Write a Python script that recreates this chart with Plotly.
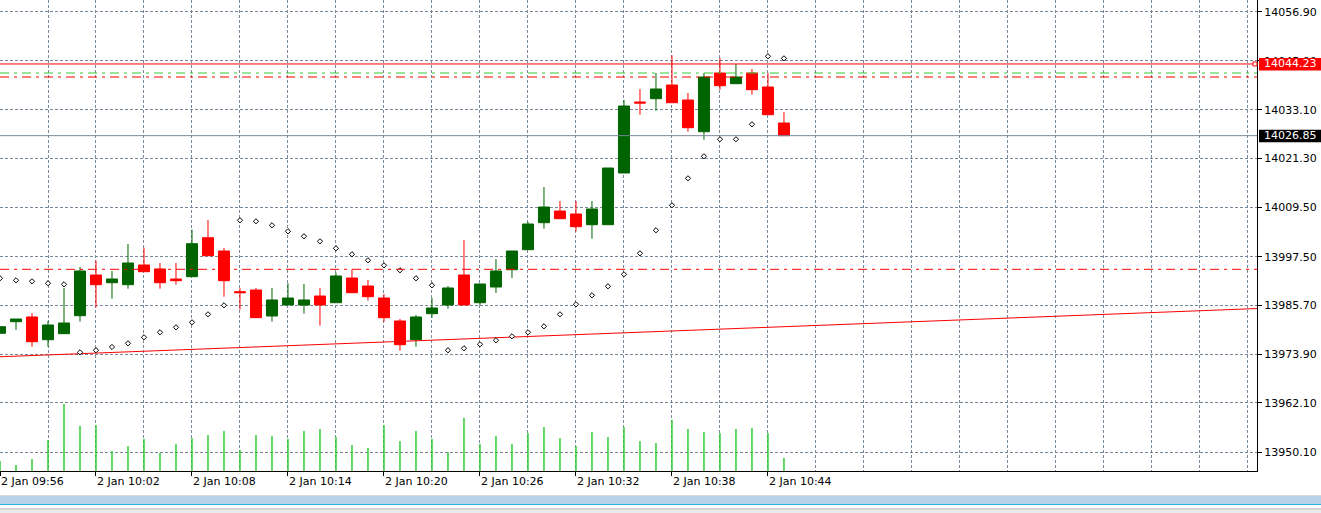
import pandas as pd
import plotly.graph_objects as go

# ---------------- data ----------------
times = pd.date_range("2024-01-02 09:56", periods=50, freq="min")

opens = [13978.94, 13981.75, 13982.89, 13977.38, 13978.84, 13983.20, 13993.07, 13991.20, 13990.72, 13995.49,
         13994.52, 13992.10, 13992.66, 14002.11, 13998.89, 13989.02, 13989.43, 13983.13, 13985.80, 13985.80,
         13987.98, 13986.35, 13992.34, 13990.40, 13987.49, 13981.92, 13977.38, 13983.69, 13985.80, 13993.07,
         13986.35, 13990.16, 13994.35, 13999.20, 14005.75, 14008.58, 14007.86, 14005.26, 14005.26, 14017.80,
         14035.01, 14035.81, 14039.13, 14035.49, 14027.81, 14042.04, 14039.45, 14042.04, 14038.65, 14029.92]
highs = [13980.54, 13982.40, 13983.86, 13981.92, 13989.92, 13995.01, 13996.54, 13994.04, 14000.58, 13999.69,
         13995.98, 13995.98, 14004.05, 14006.40, 13999.62, 13989.85, 13989.92, 13989.92, 13991.06, 13990.89,
         13989.92, 13993.63, 13994.45, 13991.86, 13988.46, 13982.40, 13983.37, 13987.49, 13990.40, 14001.55,
         13990.89, 13996.95, 13998.89, 14005.92, 14014.40, 14011.01, 14011.01, 14011.01, 14019.01, 14035.49,
         14038.16, 14042.04, 14046.33, 14037.19, 14042.04, 14045.68, 14044.22, 14043.01, 14042.04, 14032.58]
lows = [13978.94, 13979.74, 13975.69, 13975.69, 13978.84, 13981.75, 13985.24, 13987.32, 13989.75, 13993.87,
        13989.75, 13990.72, 13992.66, 13997.75, 13987.81, 13984.66, 13982.72, 13981.75, 13985.80, 13983.69,
        13980.78, 13986.35, 13988.78, 13986.84, 13981.75, 13974.72, 13975.69, 13982.72, 13984.90, 13985.80,
        13985.80, 13988.71, 13992.34, 13999.20, 14004.29, 14006.72, 14003.66, 14001.87, 14005.26, 14017.80,
        14031.93, 14032.90, 14034.84, 14027.81, 14025.87, 14037.99, 14039.45, 14036.78, 14031.93, 14026.85]
closes = [13980.54, 13982.40, 13976.90, 13980.95, 13981.43, 13994.04, 13990.72, 13992.10, 13995.98, 13993.87,
          13991.20, 13991.69, 14000.66, 13997.75, 13991.69, 13988.78, 13982.72, 13987.01, 13987.49, 13987.01,
          13985.80, 13992.83, 13988.78, 13987.81, 13982.72, 13976.17, 13982.89, 13985.07, 13989.92, 13985.80,
          13990.89, 13994.04, 13998.89, 14005.43, 14009.55, 14006.72, 14004.78, 14009.07, 14019.01, 14034.04,
          14034.77, 14038.16, 14034.84, 14028.78, 14041.07, 14038.96, 14041.07, 14037.99, 14031.93, 14026.85]
sar = [13992.27, 13991.78, 13991.54, 13991.06, 13990.81, 13974.33, 13974.82, 13975.62, 13976.51, 13977.97,
       13979.18, 13980.39, 13981.60, 13983.54, 13985.72, 14006.33, 14006.09, 14005.12, 14003.66, 14002.45,
       14001.24, 13999.54, 13998.09, 13996.63, 13995.42, 13994.21, 13992.27, 13990.57, 13974.82, 13975.30,
       13976.27, 13977.24, 13978.21, 13979.18, 13980.63, 13983.54, 13985.97, 13988.15, 13990.33, 13993.24,
       13998.33, 14003.91, 14009.97, 14016.51, 14021.85, 14025.97, 14025.97, 14029.60, 14046.09, 14045.60]
volumes = [10, 6, 12, 31, 67, 45, 46, 20, 25, 32, 18, 27, 33, 36, 40, 21, 36, 35, 32, 40,
           42, 34, 26, 23, 46, 30, 40, 32, 19, 53, 27, 35, 27, 38, 44, 33, 25, 39, 34, 44,
           30, 28, 51, 42, 39, 38, 42, 43, 38, 13]

price_ticks = [14056.90, 14045.00, 14033.10, 14021.30, 14009.50, 13997.50, 13985.70, 13973.90, 13962.10, 13950.10]
price_tick_labels = ["14056.90", "14045.00", "14033.10", "14021.30", "14009.50", "13997.50",
                     "13985.70", "13973.90", "13962.10", "13950.10"]

order_price = 14044.23
bid_price = 14026.85
tp_green = 14042.04
sl_red_upper = 14041.07
sl_red_lower = 13994.45
trend_times = ["2024-01-02 09:56", "2024-01-02 11:15"]
trend_prices = [13973.25, 13985.00]

x_start = "2024-01-02 09:56:00"
x_end = "2024-01-02 11:14:34"
y_range = [13945.55, 14059.74]
vol_range = [0, 471]

GRID = "#778899"
FONT = dict(family="DejaVu Sans", size=11, color="black")

# ---------------- traces ----------------
fig = go.Figure()

vx, vy = [], []
for t, v in zip(times, volumes):
    vx += [t, t, None]
    vy += [0, v, None]
fig.add_trace(go.Scatter(x=vx, y=vy, mode="lines", line=dict(color="#32CD32", width=1.5),
                         yaxis="y2", hoverinfo="skip"))

fig.add_trace(go.Scatter(x=trend_times, y=trend_prices, mode="lines",
                         line=dict(color="#FF0000", width=1), hoverinfo="skip"))

fig.add_trace(go.Candlestick(
    x=times, open=opens, high=highs, low=lows, close=closes,
    increasing=dict(line=dict(color="#006400", width=1), fillcolor="#006400"),
    decreasing=dict(line=dict(color="#FF0000", width=1), fillcolor="#FF0000"),
    whiskerwidth=0,
))

fig.add_trace(go.Scatter(x=times, y=sar, mode="markers",
                         marker=dict(symbol="diamond", size=4, color="white",
                                     line=dict(color="black", width=1))))

# ---------------- level lines ----------------
shapes = []
def hline(y, color, dash):
    shapes.append(dict(type="line", xref="paper", x0=0, x1=1, yref="y", y0=y, y1=y,
                       line=dict(color=color, width=1, dash=dash), layer="above"))

hline(order_price, "#FF0000", "solid")
hline(tp_green, "#32CD32", "9px,5px,3px,5px")
hline(sl_red_upper, "#FF0000", "9px,5px,3px,5px")
hline(sl_red_lower, "#FF0000", "9px,5px,3px,5px")
hline(bid_price, GRID, "solid")

# small square at the end of the order line
shapes.append(dict(type="rect", xref="paper", xsizemode="pixel", xanchor=1, x0=-4, x1=0,
                   yref="y", ysizemode="pixel", yanchor=order_price, y0=-2, y1=2,
                   line=dict(color="#FF0000", width=1), fillcolor="white", layer="above"))

# price label boxes
for p, col in [(order_price, "#FF0000"), (bid_price, "#000000")]:
    shapes.append(dict(type="rect", xref="paper", xsizemode="pixel", xanchor=1, x0=2, x1=64,
                       yref="y", ysizemode="pixel", yanchor=p, y0=-6.5, y1=6,
                       line=dict(width=0), fillcolor=col, layer="above"))

# bottom window strips
for y0, y1, col in [(-25, -24, "#DADADA"), (-33, -25, "#B9D1EA"), (-34, -33, "#2EB8E6"),
                    (-38.5, -37.5, "#A0A0A0"), (-42, -38.5, "#EAEAEA")]:
    shapes.append(dict(type="rect", xref="paper", xsizemode="pixel", xanchor=0, x0=0, x1=1321,
                       yref="paper", ysizemode="pixel", yanchor=0, y0=y0, y1=y1,
                       line=dict(width=0), fillcolor=col, layer="above"))

annotations = []
for p in [order_price, bid_price]:
    annotations.append(dict(xref="paper", x=1, xanchor="left", xshift=5, yref="y", y=p,
                            yanchor="middle", text=f"{p:.2f}", showarrow=False,
                            font=dict(family="DejaVu Sans", size=11, color="white")))

fig.update_layout(
    template="none",
    width=1321, height=513,
    margin=dict(l=0, r=64, t=0, b=42, pad=0),
    paper_bgcolor="white", plot_bgcolor="white",
    showlegend=False,
    boxgap=0.31, boxgroupgap=0,
    shapes=shapes, annotations=annotations,
    font=FONT,
    xaxis=dict(
        type="date", range=[x_start, x_end], automargin=False,
        tickmode="array", tickvals=list(times[::6]), tickformat="%-d %b %H:%M",
        ticklabelposition="outside right", ticks="outside", ticklen=4, tickcolor="black",
        showgrid=True, gridcolor=GRID, griddash="3px,2px", gridwidth=1,
        minor=dict(tickmode="linear", tick0=x_start, dtick=180000, showgrid=True,
                   gridcolor=GRID, griddash="3px,2px", gridwidth=1, ticks=""),
        showline=True, linecolor="black", linewidth=1, zeroline=False,
        rangeslider=dict(visible=False), tickfont=FONT,
    ),
    yaxis=dict(
        side="right", range=y_range, automargin=False,
        tickmode="array", tickvals=price_ticks, ticktext=price_tick_labels,
        ticks="outside", ticklen=4, tickcolor="black",
        showgrid=True, gridcolor=GRID, griddash="3px,2px", gridwidth=1,
        showline=True, linecolor="black", linewidth=1, zeroline=False, tickfont=FONT,
    ),
    yaxis2=dict(overlaying="y", range=vol_range, visible=False, fixedrange=True),
)

fig.write_html(
    "out.html",
    config={"displayModeBar": False},
    post_script="document.body.style.margin='0';document.body.style.overflow='hidden';",
)
